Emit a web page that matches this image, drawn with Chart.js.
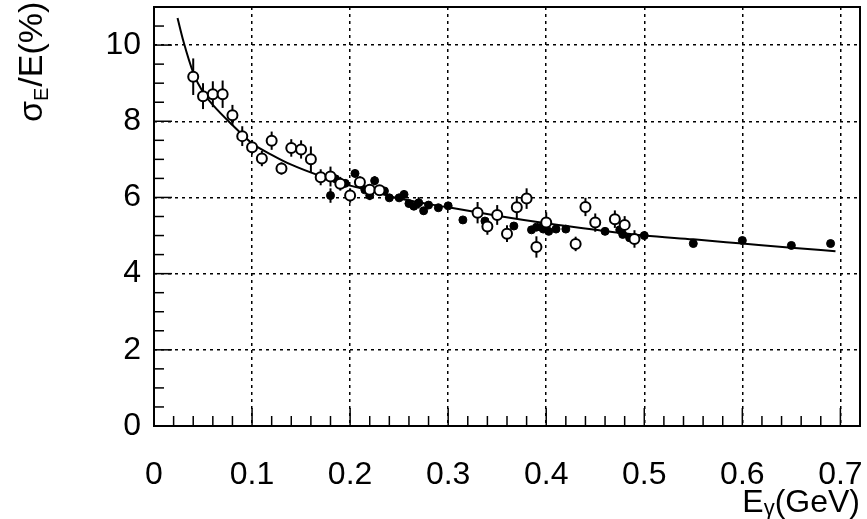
<!DOCTYPE html>
<html>
<head>
<meta charset="utf-8">
<script src="https://cdn.jsdelivr.net/npm/chart.js@4/dist/chart.umd.min.js"></script>
<style>
  body { margin: 0; background: #fff; }
</style>
</head>
<body>
<canvas id="myChart" width="867" height="519"></canvas>
<script>
// open circles
var openE     = [0.04, 0.05, 0.06, 0.07, 0.08, 0.09, 0.10, 0.11, 0.12, 0.13, 0.14, 0.15, 0.16, 0.17, 0.18, 0.19, 0.20, 0.21, 0.22, 0.23,
                 0.33, 0.34, 0.35, 0.36, 0.37, 0.38, 0.39, 0.40, 0.43, 0.44, 0.45, 0.47, 0.48, 0.49];
var openSigma = [9.17, 8.66, 8.71, 8.71, 8.16, 7.61, 7.32, 7.02, 7.49, 6.76, 7.30, 7.26, 7.00, 6.53, 6.55, 6.36, 6.05, 6.40, 6.20, 6.19,
                 5.60, 5.24, 5.54, 5.05, 5.74, 5.97, 4.70, 5.34, 4.78, 5.75, 5.34, 5.43, 5.28, 4.91];
var openErr   = [0.48, 0.34, 0.34, 0.36, 0.27, 0.26, 0.19, 0.20, 0.24, 0.16, 0.23, 0.24, 0.34, 0.21, 0.26, 0.18, 0.19, 0.15, 0.14, 0.12,
                 0.28, 0.22, 0.26, 0.22, 0.29, 0.27, 0.28, 0.27, 0.19, 0.24, 0.24, 0.23, 0.23, 0.23];

// full circles
var fullE     = [0.180, 0.185, 0.195, 0.205, 0.215, 0.220, 0.225, 0.235, 0.240, 0.250, 0.255, 0.260, 0.265, 0.270, 0.275, 0.280, 0.290, 0.300,
                 0.315, 0.3375, 0.367, 0.385, 0.390, 0.395, 0.397, 0.4025, 0.410, 0.420, 0.460, 0.475, 0.478, 0.485, 0.500, 0.550, 0.600, 0.650, 0.690];
var fullSigma = [6.05, 6.49, 6.37, 6.63, 6.20, 6.05, 6.44, 6.17, 5.99, 5.99, 6.08, 5.84, 5.77, 5.86, 5.65, 5.80, 5.73, 5.78,
                 5.41, 5.38, 5.25, 5.15, 5.22, 5.22, 5.17, 5.11, 5.17, 5.17, 5.11, 5.15, 5.03, 4.94, 5.00, 4.79, 4.87, 4.74, 4.79];
var fullErr   = [0.19, 0.08, 0.10, 0.10, 0.08, 0.12, 0.12, 0.10, 0.08, 0.08, 0.10, 0.08, 0.08, 0.15, 0.10, 0.08, 0.08, 0.08,
                 0.06, 0.08, 0.06, 0.06, 0.06, 0.06, 0.06, 0.06, 0.06, 0.06, 0.06, 0.06, 0.06, 0.06, 0.06, 0.06, 0.08, 0.06, 0.08];

// fitted curve
var fitE     = [0.024, 0.03, 0.04, 0.05, 0.06, 0.08, 0.10, 0.12, 0.14, 0.17, 0.20, 0.22, 0.25, 0.30, 0.35, 0.40, 0.45, 0.50, 0.55, 0.60, 0.65, 0.695];
var fitSigma = [10.71, 10.1, 9.28, 8.76, 8.43, 7.90, 7.42, 7.12, 6.86, 6.56, 6.31, 6.18, 5.97, 5.74, 5.52, 5.32, 5.15, 5.00, 4.90, 4.79, 4.68, 4.59];

var xMax = 0.72, yMax = 11;

function pts(xs, ys) {
    return xs.map(function(x, i) { return {x: x, y: ys[i]}; });
}

var FONT = '"Liberation Sans", Arial, sans-serif';

function noPad(s) {
    s.paddingLeft = 0; s.paddingRight = 0; s.paddingTop = 0; s.paddingBottom = 0;
}

var extras = {
    id: 'extras',
    beforeDatasetsDraw: function(chart) {
        var ctx = chart.ctx, xs = chart.scales.x, ys = chart.scales.y;
        ctx.save();
        ctx.strokeStyle = '#000';
        ctx.lineWidth = 2;
        [[openE, openSigma, openErr], [fullE, fullSigma, fullErr]].forEach(function(s) {
            s[0].forEach(function(e, i) {
                var px = xs.getPixelForValue(e);
                ctx.beginPath();
                ctx.moveTo(px, ys.getPixelForValue(s[1][i] - s[2][i]));
                ctx.lineTo(px, ys.getPixelForValue(s[1][i] + s[2][i]));
                ctx.stroke();
            });
        });
        ctx.restore();
    },
    afterDraw: function(chart) {
        var ctx = chart.ctx, a = chart.chartArea, xs = chart.scales.x, ys = chart.scales.y;
        ctx.save();
        ctx.strokeStyle = '#000';
        ctx.lineWidth = 2;
        ctx.strokeRect(a.left, a.top, a.right - a.left, a.bottom - a.top);
        // inner ticks
        ctx.lineWidth = 1.5;
        for (var i = 1; i <= 22; i++) {
            var py = ys.getPixelForValue(i * 0.5);
            var len = (i % 4 === 0) ? 18 : 10;
            ctx.beginPath(); ctx.moveTo(a.left, py); ctx.lineTo(a.left + len, py); ctx.stroke();
        }
        for (var j = 1; j <= 36; j++) {
            var px = xs.getPixelForValue(j * 0.02);
            var l2 = (j % 5 === 0) ? 18 : 10;
            ctx.beginPath(); ctx.moveTo(px, a.bottom); ctx.lineTo(px, a.bottom - l2); ctx.stroke();
        }
        // y title
        ctx.fillStyle = '#000';
        ctx.textBaseline = 'alphabetic';
        ctx.translate(42, 122);
        ctx.rotate(-Math.PI / 2);
        ctx.font = '34px ' + FONT;
        ctx.fillText('σ', 0, 0);
        var w = ctx.measureText('σ').width;
        ctx.font = '20px ' + FONT;
        ctx.fillText('E', w, 6);
        w += ctx.measureText('E').width + 1;
        ctx.font = '34px ' + FONT;
        ctx.fillText('/E(%)', w, 0);
        ctx.setTransform(1, 0, 0, 1, 0, 0);
        // x title, right aligned
        ctx.font = '32px ' + FONT;
        var w1 = ctx.measureText('E').width;
        var w3 = ctx.measureText('(GeV)').width;
        ctx.font = '22px ' + FONT;
        var w2 = ctx.measureText('γ').width;
        var x0 = 860 - w1 - w2 - w3;
        ctx.font = '32px ' + FONT;
        ctx.fillText('E', x0, 512);
        ctx.fillText('(GeV)', x0 + w1 + w2, 512);
        ctx.font = '22px ' + FONT;
        ctx.fillText('γ', x0 + w1, 515);
        ctx.restore();
    }
};

new Chart(document.getElementById('myChart'), {
    type: 'scatter',
    data: {
        datasets: [{
            label: 'open',
            data: pts(openE, openSigma),
            pointStyle: 'circle',
            pointRadius: 5,
            pointBorderWidth: 2,
            borderColor: '#000',
            backgroundColor: '#fff',
            order: 1
        }, {
            label: 'full',
            data: pts(fullE, fullSigma),
            pointRadius: 4,
            pointBorderWidth: 1,
            borderColor: '#000',
            backgroundColor: '#000',
            order: 2
        }, {
            label: 'fit',
            type: 'line',
            data: pts(fitE, fitSigma),
            showLine: true,
            pointRadius: 0,
            borderColor: '#000',
            borderWidth: 2,
            cubicInterpolationMode: 'monotone',
            fill: false,
            order: 3
        }]
    },
    options: {
        responsive: false,
        animation: false,
        devicePixelRatio: 1,
        layout: { padding: { top: 1, right: 5, left: 0, bottom: 0 } },
        plugins: { legend: { display: false }, tooltip: { enabled: false } },
        scales: {
            x: {
                type: 'linear',
                min: 0, max: xMax,
                afterFit: function(s) { s.height = 93; noPad(s); },
                grid: { color: '#000', lineWidth: 1.5, drawTicks: false },
                border: { display: false, dash: [3, 4] },
                ticks: {
                    stepSize: 0.1, includeBounds: false, padding: 30, color: '#000',
                    font: { family: FONT, size: 32 },
                    maxRotation: 0, autoSkip: false,
                    callback: function(v) { return v === 0 ? '0' : v.toFixed(1); }
                }
            },
            y: {
                type: 'linear',
                min: 0, max: yMax,
                afterFit: function(s) { s.width = 154; noPad(s); },
                grid: { color: '#000', lineWidth: 1.5, drawTicks: false },
                border: { display: false, dash: [3, 4] },
                ticks: {
                    stepSize: 2, includeBounds: false, padding: 13, color: '#000',
                    font: { family: FONT, size: 32 }
                }
            }
        }
    },
    plugins: [extras]
});
</script>
</body>
</html>
